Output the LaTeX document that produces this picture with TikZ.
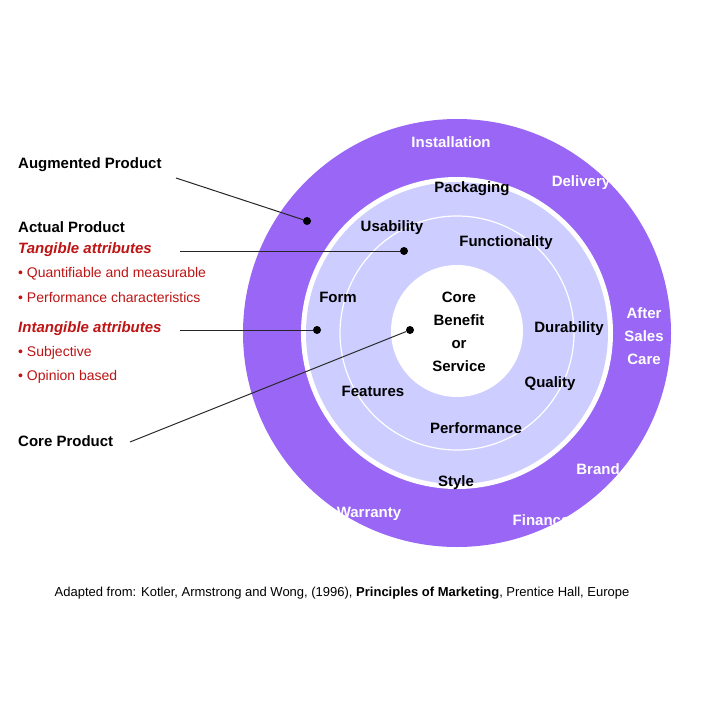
\documentclass[tikz,border=0pt]{standalone}
\usepackage{fontspec}
\setmainfont{Liberation Sans}
\usetikzlibrary{positioning}
\definecolor{ringpurple}{RGB}{153,102,245}
\definecolor{ringlight}{RGB}{205,205,255}
\definecolor{attrred}{RGB}{190,20,20}
\tikzset{
  lbl/.style={font=\fontsize{15}{17}\selectfont\bfseries},
  ringlbl/.style={lbl, text=white},
  side/.style={anchor=west, inner sep=0pt, font=\fontsize{15}{17}\selectfont\bfseries},
  attr/.style={side, text=attrred, font=\fontsize{15}{17}\selectfont\bfseries\itshape},
  point/.style={anchor=west, inner sep=0pt, text=attrred, font=\fontsize{14}{17}\selectfont},
  dot/.style={circle, fill=black, inner sep=0pt, minimum size=8pt},
  pointer/.style={draw=black!85, line width=1pt}
}
\begin{document}
\begin{tikzpicture}[x=1pt, y=-1pt]
  \useasboundingbox[fill=white] (0,0) rectangle (720,720);
  % rings
  \fill[ringpurple] (457,333) circle (214);
  \fill[white] (457,333) circle (156);
  \fill[ringlight] (457,333) circle (151);
  \draw[white, line width=1.2pt] (457,333) circle (117);
  \fill[white] (457,331) circle (66);

  % outer ring labels
  \node[ringlbl] (install) at (451,142) {Installation};
  \node[ringlbl] (deliv) at (581,183) {Delivery};
  \node[ringlbl, align=center, font=\fontsize{15}{23}\selectfont\bfseries] (after) at (644,336) {After\\Sales\\Care};
  \node[ringlbl] (brand) at (598,469) {Brand};
  \node[ringlbl] (finance) at (541,520) {Finance};
  \node[ringlbl] (warranty) at (369,514) {Warranty};

  % actual product labels
  \node[lbl] (pack) at (472,189) {Packaging};
  \node[lbl] (usab) at (392,228) {Usability};
  \node[lbl] (func) at (506,243) {Functionality};
  \node[lbl] (form) at (338,297) {Form};
  \node[lbl] (dura) at (569,329) {Durability};
  \node[lbl] (qual) at (550,384) {Quality};
  \node[lbl] (feat) at (373,391) {Features};
  \node[lbl] (perf) at (476,428) {Performance};
  \node[lbl] (style) at (456,483) {Style};
  \node[lbl, align=center, font=\fontsize{15}{23}\selectfont\bfseries] (core) at (459,332) {Core\\Benefit\\or\\Service};

  % left side texts
  \node[side] (aug) at (18,165) {Augmented Product};
  \node[side] (act) at (18,227) {Actual Product};
  \node[attr] (tang) at (18,250) {Tangible attributes};
  \node[point] (tang1) at (18,274) {• Quantifiable and measurable};
  \node[point] (tang2) at (18,297) {• Performance characteristics};
  \node[attr] (intang) at (18,329) {Intangible attributes};
  \node[point] (intang1) at (18,353) {• Subjective};
  \node[point] (intang2) at (18,377) {• Opinion based};
  \node[side] (corep) at (18,441) {Core Product};

  % pointers
  \node[dot] (augdot) at (307,221) {};
  \node[dot] (tangdot) at (404,251) {};
  \node[dot] (intangdot) at (317,330) {};
  \node[dot] (coredot) at (410,330) {};
  \coordinate (a1) at (176,178);
  \coordinate (a2) at (180,251);
  \coordinate (a3) at (180,330);
  \coordinate (a4) at (130,442);
  \draw[pointer] (a1) -- (augdot);
  \draw[pointer] (a2) -- (tangdot);
  \draw[pointer] (a3) -- (intangdot);
  \draw[pointer] (a4) -- (coredot);

  % caption
  \node[font=\fontsize{13}{15}\selectfont] (src) at (342,593)
    {Adapted from: Kotler, Armstrong and Wong, (1996), \textbf{Principles of Marketing}, Prentice Hall, Europe};
\end{tikzpicture}
\end{document}
